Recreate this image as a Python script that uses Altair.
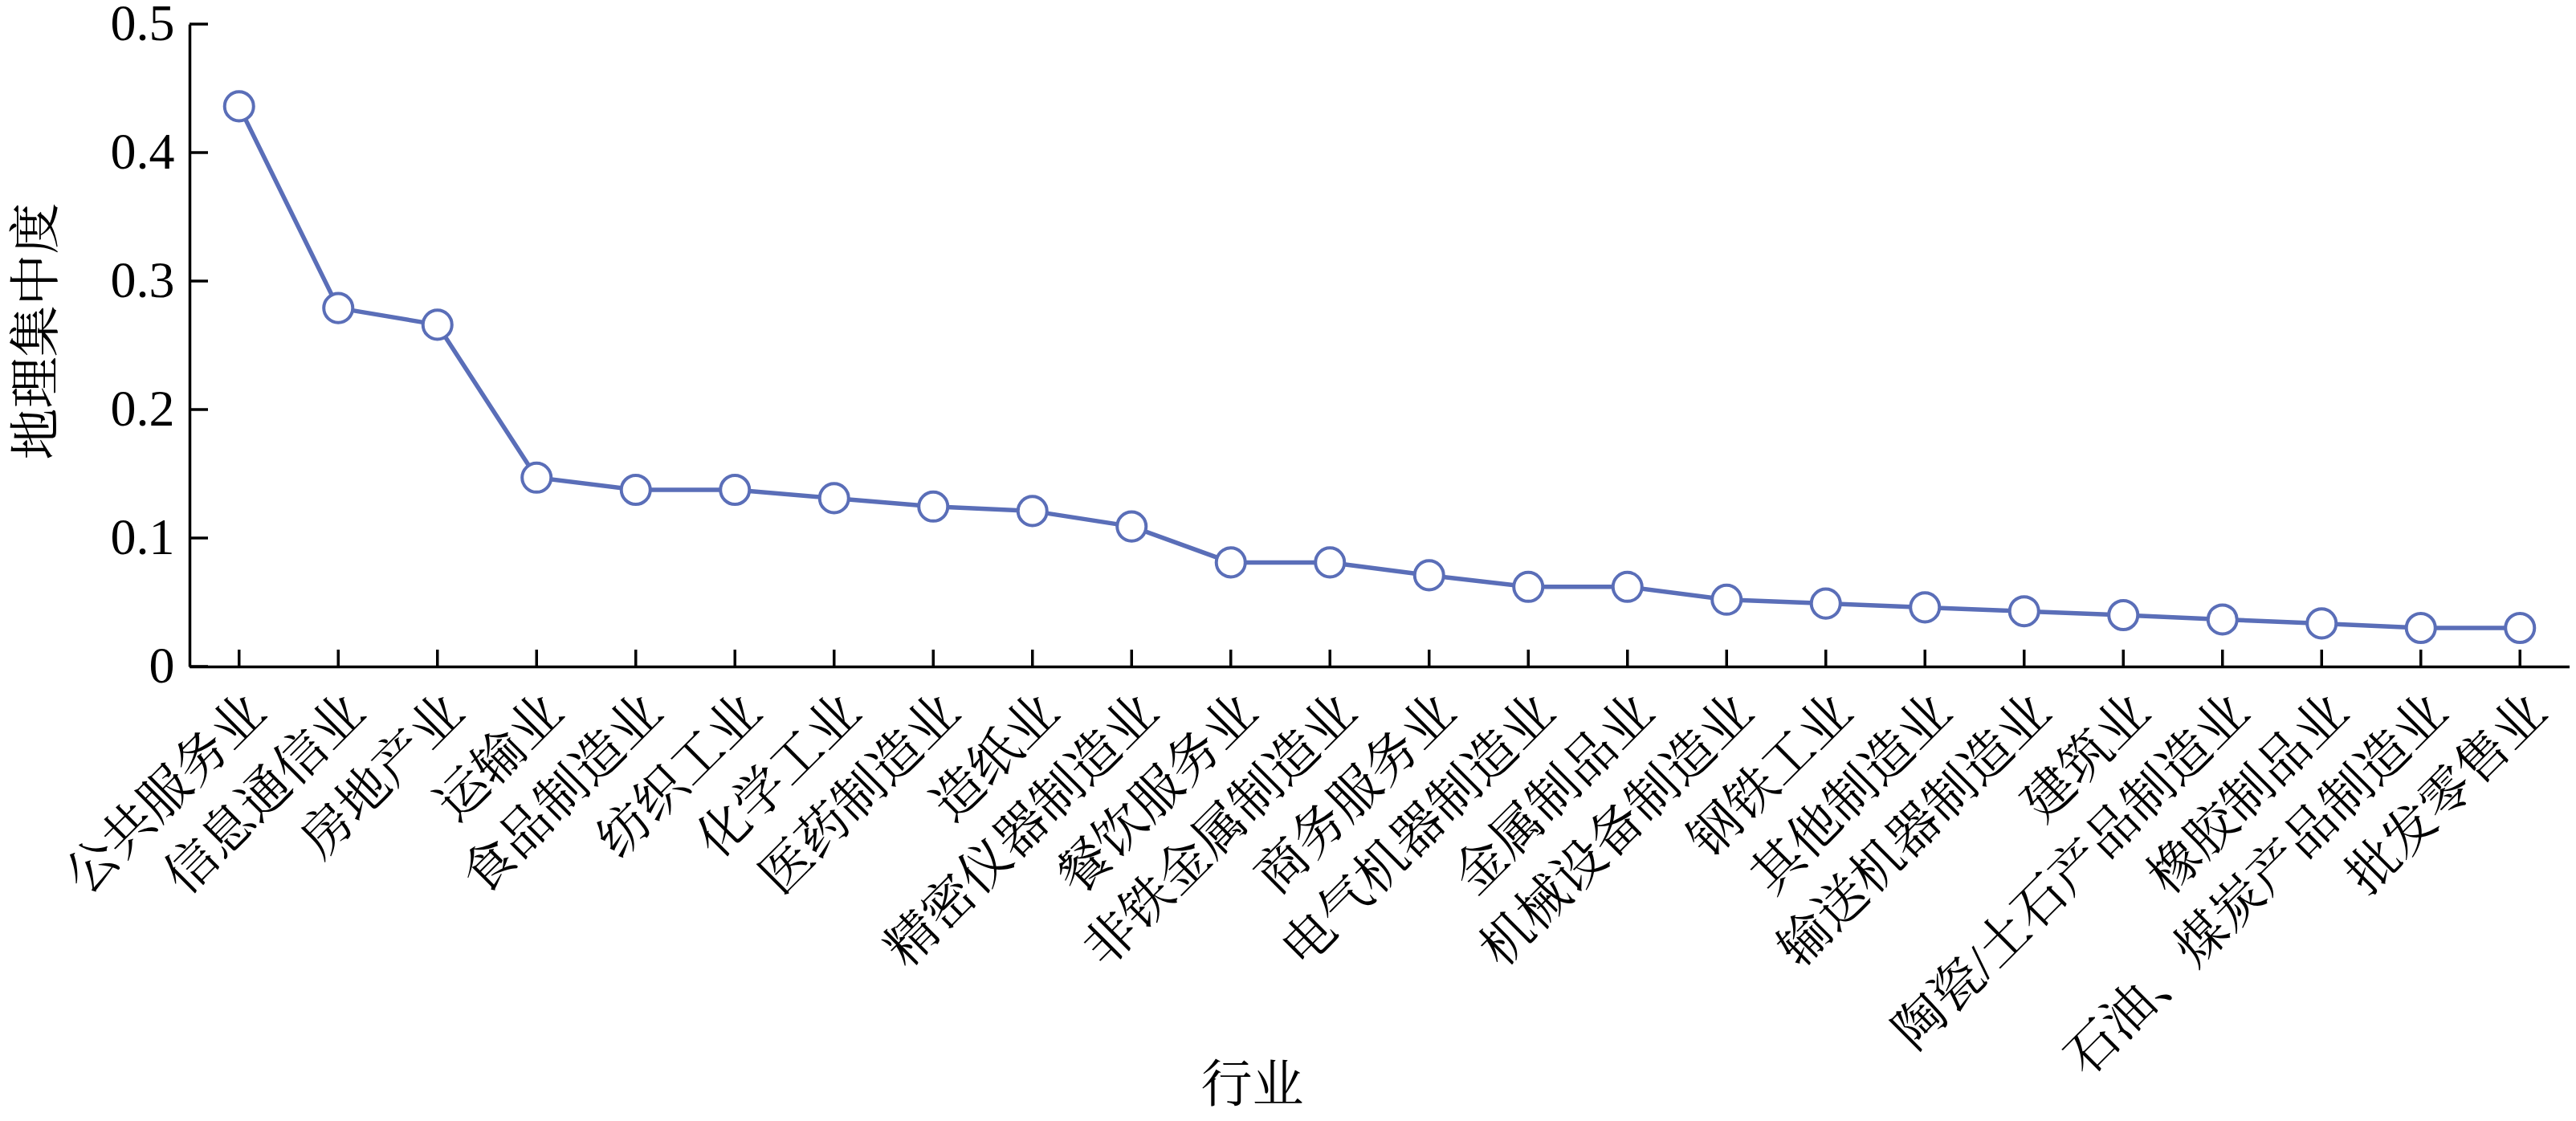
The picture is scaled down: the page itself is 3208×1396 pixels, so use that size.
import altair as alt
import pandas as pd

industries = [
    "公共服务业", "信息通信业", "房地产业", "运输业", "食品制造业", "纺织工业",
    "化学工业", "医药制造业", "造纸业", "精密仪器制造业", "餐饮服务业", "非铁金属制造业",
    "商务服务业", "电气机器制造业", "金属制品业", "机械设备制造业", "钢铁工业", "其他制造业",
    "输送机器制造业", "建筑业", "陶瓷/土石产品制造业", "橡胶制品业", "石油、煤炭产品制造业", "批发零售业",
]
values = [
    0.436, 0.279, 0.266, 0.147, 0.1375, 0.1375, 0.131, 0.1245, 0.121, 0.109, 0.081, 0.081,
    0.071, 0.062, 0.062, 0.052, 0.049, 0.046, 0.043, 0.040, 0.0366, 0.0335, 0.030, 0.030,
]
y_ticks = [0, 0.1, 0.2, 0.3, 0.4, 0.5]

df = pd.DataFrame({"行业": industries, "地理集中度": values})
ticks_df = pd.DataFrame({"地理集中度": y_ticks})

W, H = 2964, 800
COLOR = "#5a6eb8"
FONT = "'Liberation Serif', 'Times New Roman', 'Noto Serif CJK SC', 'Noto Sans CJK SC'"

x_enc = alt.X(
    "行业:N",
    sort=industries,
    scale=alt.Scale(type="point", padding=0.5),
    axis=alt.Axis(
        title="行业",
        labelAngle=-45,
        labelAlign="right",
        labelBaseline="top",
        labelPadding=24,
        labelFontSize=64,
        labelFont=FONT,
        labelColor="black",
        labelOverlap=False,
        labelLimit=2000,
        ticks=False,
        tickSize=0,
        domainColor="black",
        domainWidth=3.5,
        titleFontSize=64,
        titleFont=FONT,
        titleFontWeight="normal",
        titleColor="black",
        titleX=1323,
        titleY=522,
        titleAlign="center",
        titleBaseline="middle",
        grid=False,
    ),
)
y_enc = alt.Y(
    "地理集中度:Q",
    scale=alt.Scale(domain=[0, 0.5], nice=False, zero=True),
    axis=alt.Axis(
        title="地理集中度",
        values=y_ticks,
        format="~g",
        labelPadding=19,
        labelFontSize=64,
        labelFont=FONT,
        labelColor="black",
        ticks=False,
        tickSize=0,
        domainColor="black",
        domainWidth=3.5,
        titleFontSize=64,
        titleFont=FONT,
        titleFontWeight="normal",
        titleColor="black",
        titleX=-190,
        titleY=382,
        titleAlign="center",
        titleBaseline="middle",
        titleAngle=270,
        grid=False,
    ),
)

line = alt.Chart(df).mark_line(color=COLOR, strokeWidth=5.5).encode(x=x_enc, y=y_enc)
points = alt.Chart(df).mark_point(
    shape="circle", filled=True, fill="white", stroke=COLOR, strokeWidth=4, size=1300, opacity=1
).encode(x=x_enc, y=y_enc)

ytick_rules = alt.Chart(ticks_df).mark_rule(color="black", strokeWidth=3.5).encode(
    y=y_enc, x=alt.value(0), x2=alt.value(23)
)
xtick_rules = alt.Chart(df).mark_rule(color="black", strokeWidth=3.5).encode(
    x=x_enc, y=alt.value(H), y2=alt.value(H - 21)
)

chart = (
    alt.layer(line, points, ytick_rules, xtick_rules)
    .properties(
        width=W,
        height=H,
        background="white",
        autosize=alt.AutoSizeParams(type="none"),
        padding={"left": 228, "top": 22, "right": 0, "bottom": 558},
    )
    .configure_view(stroke=None)
    .configure_axis(grid=False)
)

chart.save("out.html", embed_options={"renderer": "svg", "actions": False})
